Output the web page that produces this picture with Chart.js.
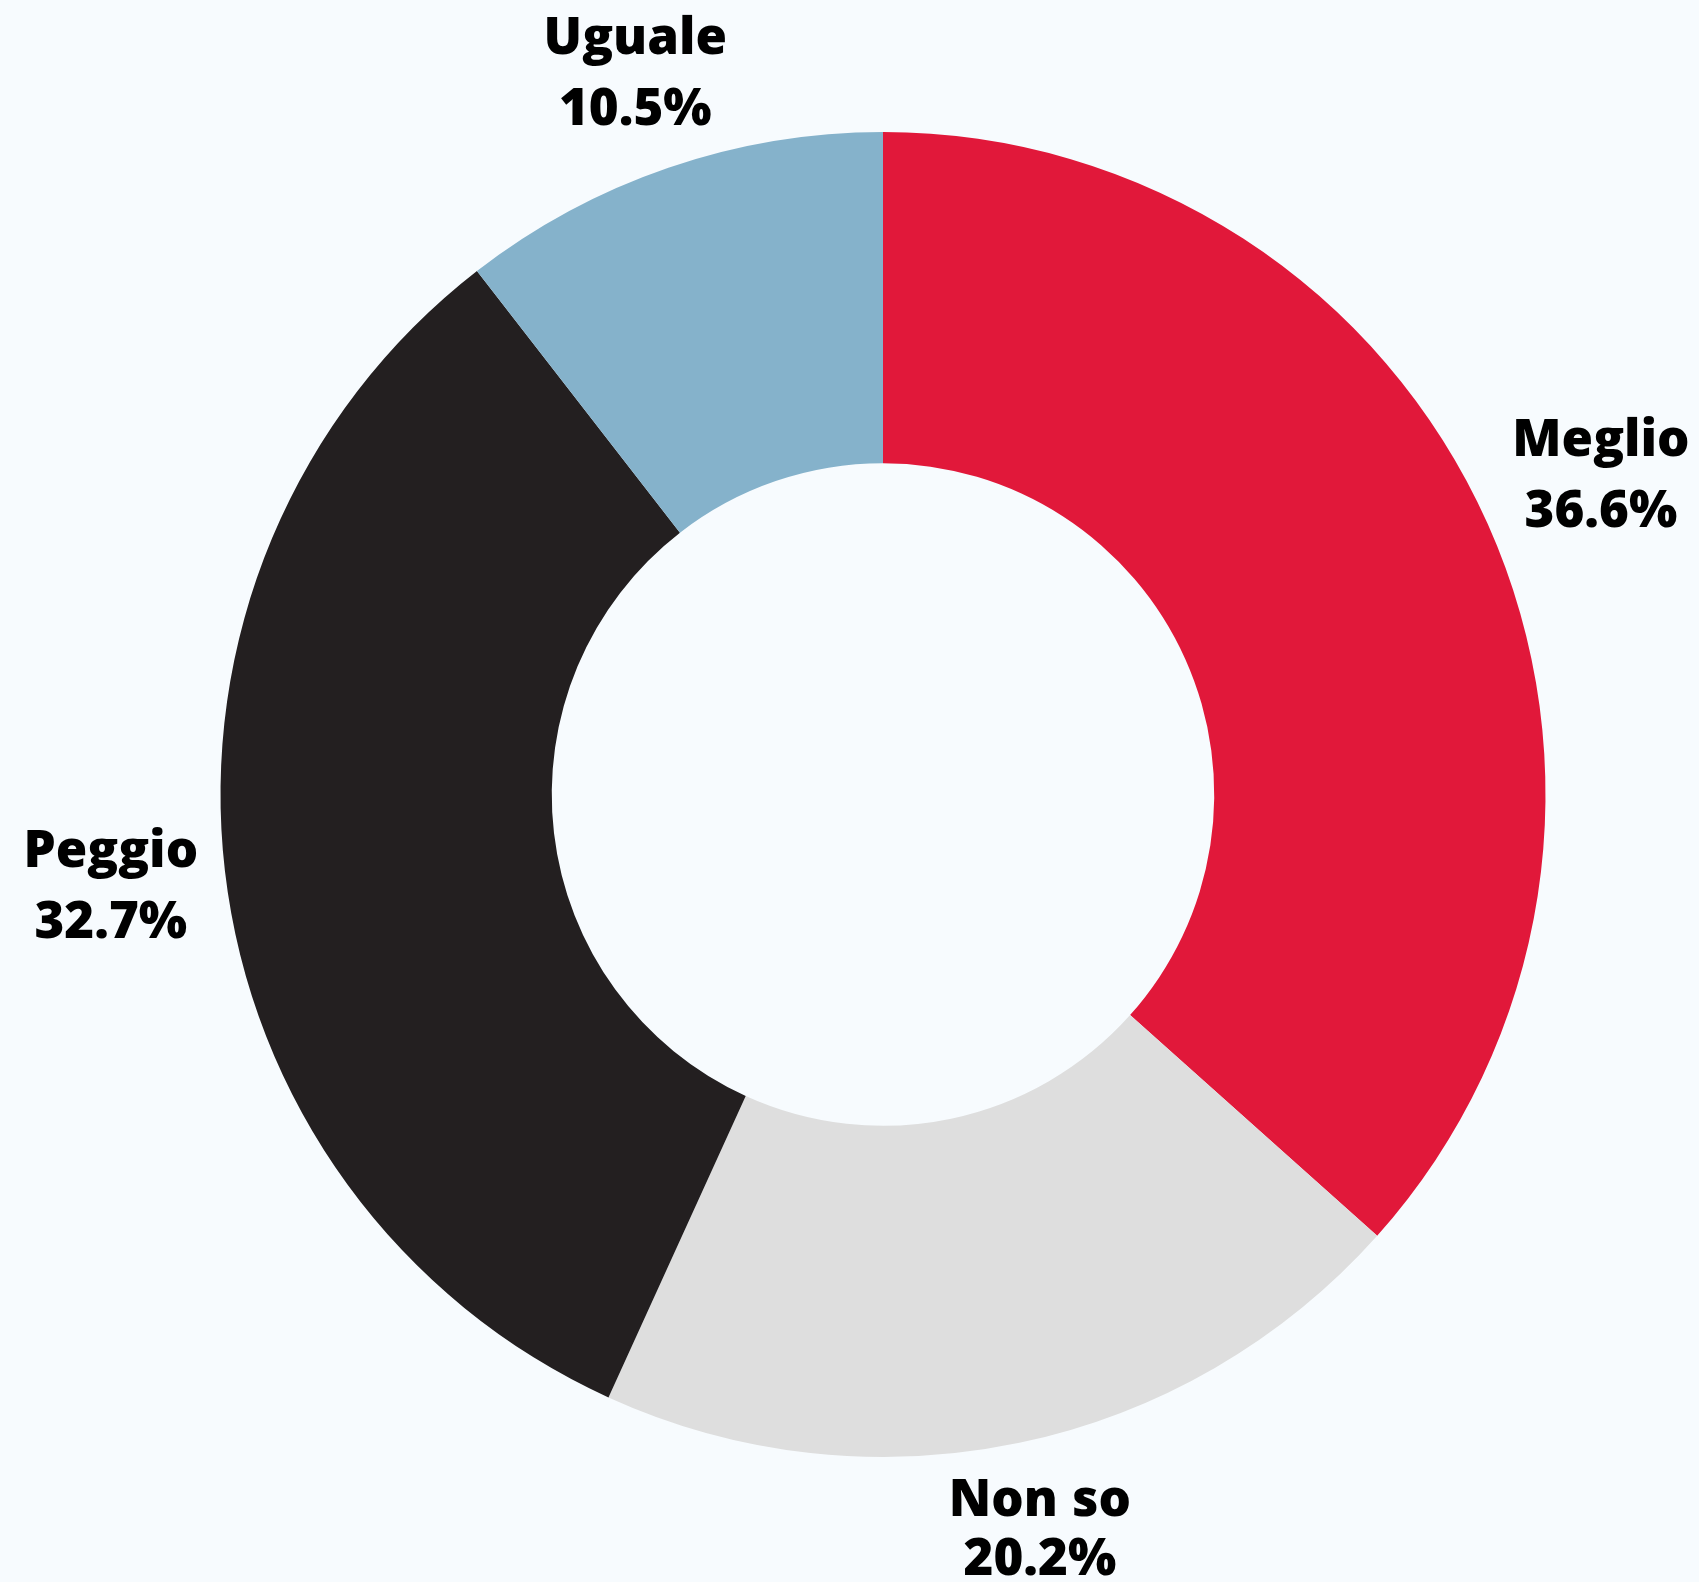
<!DOCTYPE html>
<html>
<head>
<meta charset="utf-8">
<script src="https://cdn.jsdelivr.net/npm/chart.js@4.4.0/dist/chart.umd.min.js"></script>
<style>
  html, body { margin: 0; padding: 0; background: #F7FBFE; }
  #wrap { width: 1699px; height: 1582px; }
</style>
</head>
<body>
<div id="wrap"><canvas id="c" width="1699" height="1582"></canvas></div>
<script>
const categories = ["Meglio", "Non so", "Peggio", "Uguale"];
const values = [36.6, 20.2, 32.7, 10.5];
const colors = ["#E1183A", "#DEDEDE", "#231F20", "#85B2CB"];

const FONT = '800 51px "Open Sans ExtraBold", "Open Sans", "Noto Sans", sans-serif';
const LINE = 71;
const PAD = 27;
const YSHIFT = 5;

const outsideLabels = {
  id: 'outsideLabels',
  afterDatasetsDraw(chart) {
    const ctx = chart.ctx;
    const H = chart.height;
    const meta = chart.getDatasetMeta(0);
    ctx.save();
    ctx.font = FONT;
    ctx.fillStyle = '#000';
    ctx.textAlign = 'center';
    ctx.textBaseline = 'middle';
    meta.data.forEach((arc, i) => {
      const p = arc.getProps(['x', 'y', 'startAngle', 'endAngle', 'outerRadius'], true);
      const mid = (p.startAngle + p.endAngle) / 2;
      const dx = Math.cos(mid), dy = Math.sin(mid);
      const lines = [categories[i], values[i].toFixed(1) + '%'];
      const w = Math.max(...lines.map(l => ctx.measureText(l).width));
      const hw = w / 2, hh = LINE;
      const t = Math.min(Math.abs(dx) > 1e-6 ? hw / Math.abs(dx) : Infinity,
                         Math.abs(dy) > 1e-6 ? hh / Math.abs(dy) : Infinity);
      const r = p.outerRadius + PAD + t;
      const cx = p.x + dx * r, cy = p.y + dy * r + YSHIFT;
      const y2 = Math.min(cy + LINE / 2, H - 20);
      const y1 = Math.min(cy - LINE / 2, y2 - 59);
      ctx.fillText(lines[0], cx, y1);
      ctx.fillText(lines[1], cx, y2);
    });
    ctx.restore();
  }
};

new Chart(document.getElementById('c'), {
  type: 'doughnut',
  data: {
    labels: categories,
    datasets: [{
      data: values,
      backgroundColor: colors,
      borderWidth: 0,
      hoverOffset: 0
    }]
  },
  options: {
    responsive: false,
    devicePixelRatio: 1,
    animation: false,
    cutout: '50%',
    layout: { padding: { top: 132, bottom: 125, left: 200, right: 133 } },
    plugins: {
      legend: { display: false },
      tooltip: { enabled: false }
    }
  },
  plugins: [outsideLabels]
});
</script>
</body>
</html>
